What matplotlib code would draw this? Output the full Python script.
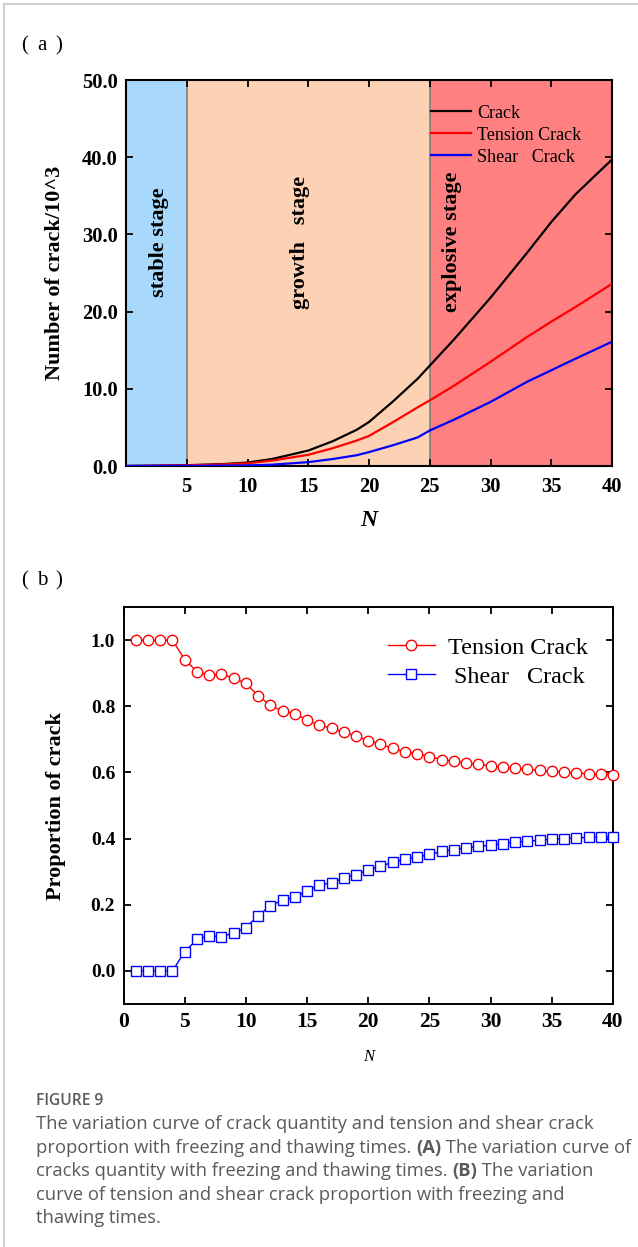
import matplotlib
matplotlib.use("Agg")
import matplotlib.pyplot as plt
from matplotlib.lines import Line2D

# ---------------- data ----------------
# panel (a): number of cracks (x10^3) vs N
N_a = [0, 5, 8, 10, 12, 15, 17, 19, 20, 22, 24, 25, 27, 30, 33, 35, 37, 40]
crack = [0, 0.1, 0.25, 0.45, 0.9, 2.0, 3.2, 4.7, 5.7, 8.4, 11.3, 13.0, 16.4, 21.8, 27.6, 31.6, 35.2, 39.7]
tension = [0, 0.08, 0.2, 0.35, 0.7, 1.45, 2.3, 3.3, 3.9, 5.7, 7.6, 8.5, 10.4, 13.5, 16.7, 18.7, 20.6, 23.6]
shear = [0, 0.02, 0.05, 0.08, 0.17, 0.5, 0.9, 1.4, 1.8, 2.7, 3.7, 4.6, 6.0, 8.3, 10.9, 12.4, 13.9, 16.1]

stages = ["stable stage", "growth   stage", "explosive stage"]
stage_bounds = [0, 5, 25, 40]
stage_colors = ["#a8d8fb", "#fdd1b4", "#ff8080"]
stage_text_x = [2.7, 14.3, 26.8]

# panel (b): proportion of cracks vs N
N_b = list(range(1, 41))
prop_tension = [1.0, 1.0, 1.0, 1.0, 0.941, 0.905, 0.894, 0.896, 0.886, 0.869,
                0.832, 0.803, 0.785, 0.778, 0.758, 0.742, 0.734, 0.721, 0.710, 0.696,
                0.685, 0.673, 0.662, 0.657, 0.648, 0.639, 0.633, 0.629, 0.624, 0.620,
                0.616, 0.612, 0.609, 0.606, 0.603, 0.601, 0.598, 0.596, 0.595, 0.593]
prop_shear = [0.0, 0.0, 0.0, 0.0, 0.058, 0.095, 0.106, 0.104, 0.114, 0.131,
              0.167, 0.197, 0.214, 0.222, 0.242, 0.259, 0.267, 0.280, 0.291, 0.305,
              0.317, 0.328, 0.338, 0.344, 0.352, 0.361, 0.367, 0.371, 0.377, 0.380,
              0.385, 0.389, 0.392, 0.395, 0.398, 0.400, 0.402, 0.404, 0.405, 0.406]

a_xticks = [5, 10, 15, 20, 25, 30, 35, 40]
a_yticks = [0, 10, 20, 30, 40, 50]
b_xticks = [0, 5, 10, 15, 20, 25, 30, 35, 40]
b_yticks = [0.0, 0.2, 0.4, 0.6, 0.8, 1.0]

SERIF = ["Liberation Serif", "DejaVu Serif"]
SANS = ["Open Sans", "DejaVu Sans"]

W, H = 638, 1247
fig = plt.figure(figsize=(W / 100, H / 100), dpi=100)

def fx(px):
    return px / W

def fy(py):
    return 1 - py / H

# frame lines (light gray border at top and left)
fig.add_artist(Line2D([fx(4), 1], [fy(4), fy(4)], color="#c8c8c8", lw=1.2))
fig.add_artist(Line2D([fx(4), fx(4)], [fy(4), 0], color="#c8c8c8", lw=1.2))

# ---------------- panel (a) ----------------
axa = fig.add_axes([fx(126), fy(466), fx(612) - fx(126), fy(80) - fy(466)])
for i in range(3):
    axa.axvspan(stage_bounds[i], stage_bounds[i + 1], color=stage_colors[i], lw=0, zorder=0)
for b in stage_bounds[1:3]:
    axa.axvline(b, color="#808080", lw=1.2, zorder=1)
for i, s in enumerate(stages):
    axa.text(stage_text_x[i], 29, s, rotation=90, ha="center", va="center",
             family=SERIF, fontweight="bold", fontsize=16, zorder=3)

axa.plot(N_a, crack, color="black", lw=1.6, label="Crack", zorder=4)
axa.plot(N_a, tension, color="#ff0000", lw=1.6, label="Tension Crack", zorder=4)
axa.plot(N_a, shear, color="#0000ff", lw=1.6, label="Shear   Crack", zorder=4)

axa.set_xlim(0, 40)
axa.set_ylim(0, 50)
axa.set_xticks(a_xticks)
axa.set_yticks(a_yticks)
axa.set_yticklabels([f"{v:.1f}" for v in a_yticks])
axa.tick_params(direction="in", top=True, right=True, length=5, width=1.3)
axa.tick_params(axis="x", pad=8)
axa.tick_params(axis="y", pad=6)
for lab in axa.get_xticklabels() + axa.get_yticklabels():
    lab.set_family(SERIF)
    lab.set_fontweight("bold")
    lab.set_fontsize(14.8)
for sp in axa.spines.values():
    sp.set_linewidth(1.5)
axa.set_xlabel("N", family=SERIF, fontweight="bold", style="italic", fontsize=17, labelpad=9)
axa.set_ylabel("Number of crack/10^3", family=SERIF, fontweight="bold", fontsize=16, labelpad=12)
axa.legend(loc="upper left", bbox_to_anchor=(0.628, 0.936), frameon=False,
           prop={"family": SERIF, "size": 13}, handlelength=2.2,
           handletextpad=0.35, labelspacing=0.28, borderpad=0, borderaxespad=0)

# ---------------- panel (b) ----------------
axb = fig.add_axes([fx(123.5), fy(1004), fx(613) - fx(123.5), fy(607) - fy(1004)])
axb.plot(N_b, prop_tension, color="#ff0000", lw=1, marker="o", ms=7.5, mfc="white",
         mec="#ff0000", mew=1, label="Tension Crack", clip_on=False, zorder=4)
axb.plot(N_b, prop_shear, color="#0000ff", lw=1, marker="s", ms=6.5, mfc="white",
         mec="#0000ff", mew=1, label=" Shear   Crack", clip_on=False, zorder=4)
axb.set_xlim(0, 40)
axb.set_ylim(-0.1, 1.1)
axb.set_xticks(b_xticks)
axb.set_yticks(b_yticks)
axb.set_yticklabels([f"{v:.1f}" for v in b_yticks])
axb.tick_params(direction="in", top=True, right=True, length=5, width=1.3, pad=6)
for lab in axb.get_xticklabels():
    lab.set_family(SERIF)
    lab.set_fontweight("bold")
    lab.set_fontsize(15.5)
for lab in axb.get_yticklabels():
    lab.set_family(SERIF)
    lab.set_fontweight("bold")
    lab.set_fontsize(14)
for sp in axb.spines.values():
    sp.set_linewidth(1.4)
axb.set_xlabel("N", family=SERIF, style="italic", fontsize=12, labelpad=12)
axb.set_ylabel("Proportion of crack", family=SERIF, fontweight="bold", fontsize=16, labelpad=18)
axb.legend(loc="upper left", bbox_to_anchor=(0.54, 0.925), frameon=False,
           prop={"family": SERIF, "size": 17.4}, handlelength=1.95,
           handletextpad=0.55, labelspacing=0.3, borderpad=0, borderaxespad=0)

# ---------------- panel letters ----------------
for letter, py in [("a", 46), ("b", 581)]:
    fig.text(fx(25), fy(py), "(", family=SERIF, fontsize=15, ha="center", va="center")
    fig.text(fx(42), fy(py), letter, family=SERIF, fontsize=15, ha="center", va="center")
    fig.text(fx(59), fy(py), ")", family=SERIF, fontsize=15, ha="center", va="center")

# ---------------- caption ----------------
fig.canvas.draw()
renderer = fig.canvas.get_renderer()

CAP_COLOR = "#5a5a5a"
fig.text(fx(36), fy(1101), "FIGURE 9", family=SANS, fontsize=11.2, fontweight="semibold",
         color=CAP_COLOR, ha="left", va="center")

caption_lines = [
    [("The variation curve of crack quantity and tension and shear crack", "normal")],
    [("proportion with freezing and thawing times. ", "normal"), ("(A)", "bold"),
     (" The variation curve of", "normal")],
    [("cracks quantity with freezing and thawing times. ", "normal"), ("(B)", "bold"),
     (" The variation", "normal")],
    [("curve of tension and shear crack proportion with freezing and", "normal")],
    [("thawing times.", "normal")],
]
line_y = [1124, 1148, 1171, 1195, 1218]

for segs, py in zip(caption_lines, line_y):
    x = 36.0
    for txt, wt in segs:
        t = fig.text(fx(x), fy(py), txt, family=SANS, fontsize=13.2, fontweight=wt,
                     color=CAP_COLOR, ha="left", va="center")
        x += t.get_window_extent(renderer=renderer).width
fig.savefig("out.png", dpi=100)
